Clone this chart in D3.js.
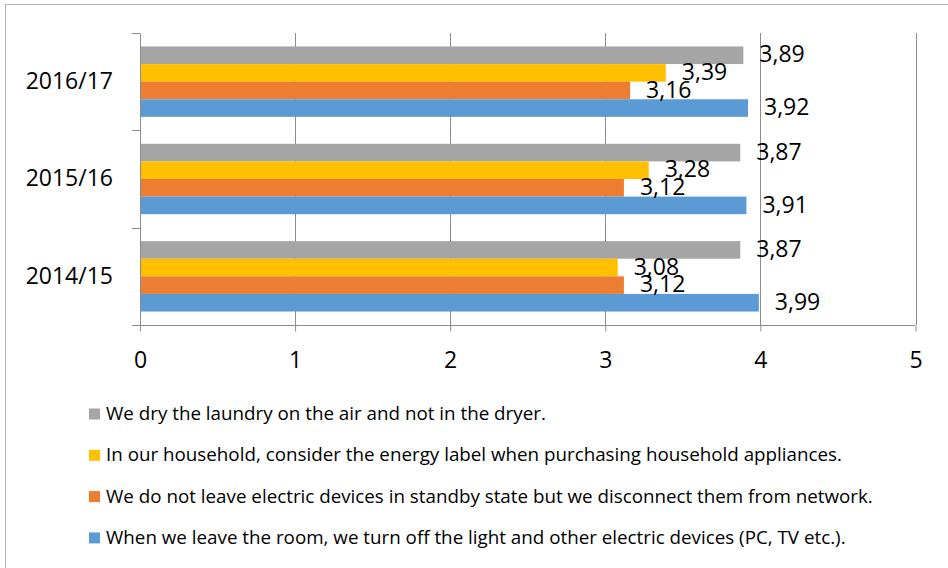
<!DOCTYPE html>
<html>
<head>
<meta charset="utf-8">
<script src="https://cdn.jsdelivr.net/npm/d3@7"></script>
<style>
  html, body { margin: 0; padding: 0; background: #fff; }
  svg { display: block; font-family: "Open Sans", sans-serif; }
</style>
</head>
<body>
<svg id="chart" width="948" height="568"></svg>
<script>
// Survey years, bottom to top on the axis
const categories = ["2014/15", "2015/16", "2016/17"];

// Statements, in legend order (top bar of each group first)
const seriesNames = [
  "We dry the laundry on the air and not in the dryer.",
  "In our household, consider the energy label when purchasing household appliances.",
  "We do not leave electric devices in standby state but we disconnect them from network.",
  "When we leave the room, we turn off the light and other electric devices (PC, TV etc.)."
];
const seriesColors = ["#a5a5a5", "#ffc000", "#ed7d31", "#5b9bd5"];

// Mean scores per year, one array per statement (same order as categories)
const laundryValues = [3.87, 3.87, 3.89];
const energyLabelValues = [3.08, 3.28, 3.39];
const standbyValues = [3.12, 3.12, 3.16];
const lightsOffValues = [3.99, 3.91, 3.92];
const seriesValues = [laundryValues, energyLabelValues, standbyValues, lightsOffValues];

const xTicks = [0, 1, 2, 3, 4, 5];

const svg = d3.select("#chart");

// Outer chart frame
svg.append("rect")
  .attr("x", 5.5).attr("y", 4.5)
  .attr("width", 948).attr("height", 568)
  .attr("fill", "none").attr("stroke", "#b4b4b4").attr("stroke-width", 1);

const plot = { left: 140, right: 915.5, top: 33, bottom: 325 };

const x = d3.scaleLinear().domain([0, 5]).range([plot.left, plot.right]);
const y0 = d3.scaleBand().domain(categories).range([plot.bottom, plot.top]);
const y1 = d3.scaleBand().domain(d3.range(seriesNames.length))
  .range([0, y0.bandwidth()]).paddingInner(0).paddingOuter(0.765);

const gridColor = "#8c8c8c";

// Vertical gridlines
svg.append("g").selectAll("line").data(xTicks.slice(1)).join("line")
  .attr("x1", d => Math.round(x(d)) + 0.5).attr("x2", d => Math.round(x(d)) + 0.5)
  .attr("y1", plot.top).attr("y2", plot.bottom)
  .attr("stroke", gridColor).attr("stroke-width", 1);

// Bars
const groups = svg.append("g").selectAll("g").data(categories).join("g")
  .attr("transform", c => `translate(0,${y0(c)})`);

groups.each(function (c, ci) {
  const g = d3.select(this);
  seriesValues.forEach((vals, si) => {
    const v = vals[ci];
    g.append("rect")
      .attr("x", x(0))
      .attr("y", y1(si))
      .attr("width", x(v) - x(0))
      .attr("height", y1.bandwidth())
      .attr("fill", seriesColors[si]);
  });
});

// Value labels at the bar ends
groups.each(function (c, ci) {
  const g = d3.select(this);
  seriesValues.forEach((vals, si) => {
    const v = vals[ci];
    g.append("text")
      .attr("x", x(v) + 16)
      .attr("y", y1(si) + y1.bandwidth() / 2 + 1)
      .attr("dominant-baseline", "middle")
      .attr("font-size", 23)
      .attr("fill", "#000")
      .text(v.toFixed(2).replace(".", ","));
  });
});

// Category axis (left)
const yAxis = d3.axisLeft(y0).tickSize(0).tickPadding(27);
const yAxisG = svg.append("g").attr("transform", `translate(${plot.left},0)`).call(yAxis);
yAxisG.select(".domain").attr("stroke", gridColor);
yAxisG.selectAll("text").attr("font-size", 23).attr("fill", "#000")
  .attr("font-family", "Open Sans, sans-serif");
// Tick marks between categories
const boundaries = categories.map(c => y0(c)).concat([plot.bottom]);
svg.append("g").selectAll("line").data(boundaries).join("line")
  .attr("x1", plot.left - 8).attr("x2", plot.left)
  .attr("y1", d => Math.round(d) + 0.5).attr("y2", d => Math.round(d) + 0.5)
  .attr("stroke", gridColor);

// Value axis (bottom)
const xAxis = d3.axisBottom(x).tickValues(xTicks).tickSize(6).tickPadding(20)
  .tickFormat(d3.format("d"));
const xAxisG = svg.append("g").attr("transform", `translate(0,${plot.bottom + 0.5})`).call(xAxis);
xAxisG.select(".domain").attr("stroke", gridColor).attr("d", `M${plot.left - 8},0H${plot.right}`);
xAxisG.selectAll(".tick line").attr("stroke", gridColor);
xAxisG.selectAll("text").attr("font-size", 23).attr("fill", "#000")
  .attr("font-family", "Open Sans, sans-serif");

// Legend
const legend = svg.append("g").selectAll("g").data(seriesNames).join("g")
  .attr("transform", (d, i) => `translate(89,${414 + i * 41.3})`);
legend.append("rect")
  .attr("x", 0).attr("y", -5.5).attr("width", 11).attr("height", 11)
  .attr("fill", (d, i) => seriesColors[i]);
legend.append("text")
  .attr("x", 17).attr("y", 1)
  .attr("dominant-baseline", "middle")
  .attr("font-size", 18.8)
  .attr("fill", "#000")
  .text(d => d);
</script>
</body>
</html>
